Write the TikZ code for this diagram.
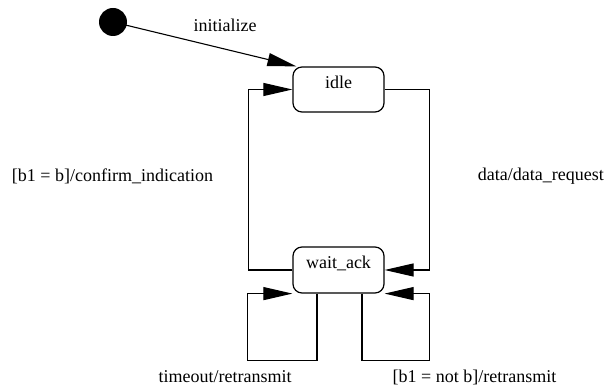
\documentclass[tikz,border=0pt]{standalone}
\usepackage{fontspec}
\setmainfont{Liberation Serif}
\usetikzlibrary{arrows.meta}
\begin{document}
\begin{tikzpicture}[x=1pt,y=-1pt,
  statebox/.style={draw,line width=1.2pt,rounded corners=9pt,minimum width=91pt,minimum height=45pt,
    font=\fontsize{18}{21}\selectfont,text height=12pt,text depth=14pt,inner sep=0pt},
  lbl/.style={font=\fontsize{18}{21}\selectfont,inner sep=0pt},
  arr/.style={line width=1.1pt,-{Triangle[length=29pt,width=13pt]}}]
\useasboundingbox (0,0) rectangle (606,387);
\fill (113,22) circle (14pt);
\coordinate (init) at (113,22);
\node[statebox] (idle) at (338.5,89.5) {idle};
\node[statebox,minimum height=46pt] (wait) at (338.5,270) {wait\_ack};
% initial transition
\draw[arr] (init) -- ([xshift=4pt]idle.north west);
\node[lbl] (linit) at (225,25) {initialize};
% wait_ack -> idle
\draw[arr] (wait.west) -- ++(-44,0) |- (idle.west);
\node[lbl] (lconf) at (112.5,176) {[b1 = b]/confirm\_indication};
% idle -> wait_ack
\draw[arr] (idle.east) -- ++(45,0) |- (wait.east);
\node[lbl,anchor=east] (ldata) at (604,176) {data/data\_request};
% self loop: timeout
\draw[arr] ([xshift=-21.5pt]wait.south) -- ++(0,67) -| ([xshift=-45pt]wait.south west) -- (wait.south west);
\node[lbl] (ltime) at (225,377) {timeout/retransmit};
% self loop: wrong bit
\draw[arr] ([xshift=23.5pt]wait.south) -- ++(0,67) -| ([xshift=45pt]wait.south east) -- (wait.south east);
\node[lbl] (lnot) at (474.5,377) {[b1 = not b]/retransmit};
\end{tikzpicture}
\end{document}
